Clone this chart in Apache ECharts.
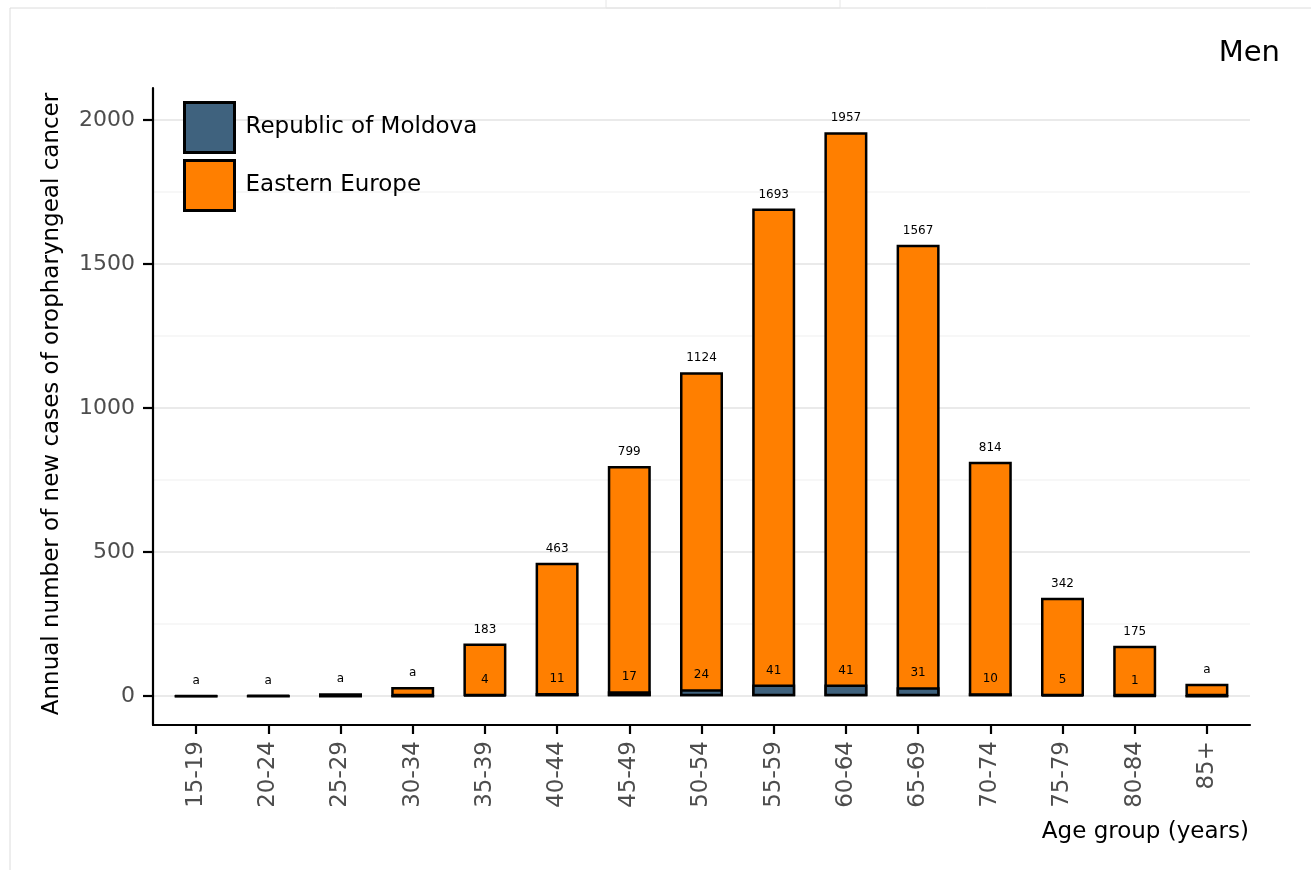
<!DOCTYPE html>
<html>
<head>
<meta charset="utf-8">
<script src="https://cdn.jsdelivr.net/npm/echarts@6/dist/echarts.min.js"></script>
<style>
html,body{margin:0;padding:0;background:#fff;}
#chart{width:1311px;height:870px;}
</style>
</head>
<body>
<div id="chart"></div>
<script>
const ageGroups = ['15-19','20-24','25-29','30-34','35-39','40-44','45-49','50-54','55-59','60-64','65-69','70-74','75-79','80-84','85+'];
const easternEurope = [2, 3, 10, 32, 183, 463, 799, 1124, 1693, 1957, 1567, 814, 342, 175, 43];
const moldova = [0, 0, 0, 0, 4, 11, 17, 24, 41, 41, 31, 10, 5, 1, 0];
const easternEuropeLabels = ['a','a','a','a','183','463','799','1124','1693','1957','1567','814','342','175','a'];
const moldovaLabels = ['','','','','4','11','17','24','41','41','31','10','5','1',''];
const yTicks = [0, 500, 1000, 1500, 2000];
const yMinorLines = [250, 750, 1250, 1750];

const FONT = 'DejaVu Sans';
const chart = echarts.init(document.getElementById('chart'));

chart.setOption({
  animation: false,
  backgroundColor: '#fff',
  textStyle: { fontFamily: FONT },
  grid: [
    { left: 153, right: 61, top: 88, bottom: 145 },
    { left: 153, right: 61, top: 91, bottom: 174 },
    { left: 160, right: 68, top: 88, bottom: 145 },
    { left: 153, right: 61, top: 91, bottom: 174 }
  ],
  xAxis: [
    { gridIndex: 0, type: 'value', min: 0, max: 1,
      axisLine: { show: true, onZero: false, lineStyle: { color: '#000', width: 2.2 } },
      axisTick: { show: false }, axisLabel: { show: false }, splitLine: { show: false } },
    { gridIndex: 1, type: 'value', min: 0, max: 1, show: false },
    { gridIndex: 2, type: 'category', data: ageGroups,
      axisLine: { show: false, onZero: false },
      axisTick: { show: true, alignWithLabel: true, length: 9, lineStyle: { color: '#000', width: 2.2 } },
      axisLabel: { rotate: 90, fontSize: 23, color: '#4d4d4d', margin: 16, fontFamily: FONT },
      splitLine: { show: false } },
    { gridIndex: 3, type: 'value', min: 0, max: 1, show: false }
  ],
  yAxis: [
    { gridIndex: 0, type: 'value', min: -100, max: 2111,
      axisLine: { show: true, onZero: false, lineStyle: { color: '#000', width: 2.2 } },
      axisTick: { show: false }, axisLabel: { show: false }, splitLine: { show: false } },
    { gridIndex: 1, type: 'value', min: 0, max: 2100,
      axisLine: { show: false },
      axisTick: { show: true, length: 10, customValues: yTicks, lineStyle: { color: '#000', width: 2.2 } },
      axisLabel: { fontSize: 22, color: '#4d4d4d', margin: 18, fontFamily: FONT,
        customValues: yTicks, formatter: v => String(v) },
      splitLine: { show: true, lineStyle: { color: '#e3e3e3', width: 1.5 } } },
    { gridIndex: 2, type: 'value', min: -100, max: 2111, show: false, splitLine: { show: false } },
    { gridIndex: 3, type: 'value', min: 0, max: 2100,
      axisLine: { show: false },
      axisTick: { show: false, customValues: yMinorLines },
      axisLabel: { show: false, customValues: yMinorLines },
      splitLine: { show: true, lineStyle: { color: '#f5f5f5', width: 1.5 } } }
  ],
  legend: {
    data: ['Republic of Moldova', 'Eastern Europe'],
    orient: 'vertical', left: 178, top: 96,
    itemWidth: 50, itemHeight: 50, itemGap: 5, itemTextGap: 12,
    icon: 'rect',
    itemStyle: { borderColor: '#000', borderWidth: 3 },
    textStyle: { fontSize: 23, color: '#000', fontFamily: FONT, padding: [0, 0, 0, 6] },
    selectedMode: false
  },
  series: [
    { name: 'Eastern Europe', type: 'bar', xAxisIndex: 2, yAxisIndex: 2,
      data: easternEurope, barWidth: 43, barGap: '-100%',
      itemStyle: { color: '#ff7f00', borderColor: '#000', borderWidth: 2.5 },
      label: { show: true, position: 'top', distance: 8, fontSize: 12, color: '#000', fontFamily: FONT,
        formatter: p => easternEuropeLabels[p.dataIndex] } },
    { name: 'Republic of Moldova', type: 'bar', xAxisIndex: 2, yAxisIndex: 2,
      data: moldova, barWidth: 43, barGap: '-100%',
      itemStyle: { color: '#3f627e', borderColor: '#000', borderWidth: 2.5 },
      label: { show: true, position: 'top', distance: 8, fontSize: 12, color: '#000', fontFamily: FONT,
        formatter: p => moldovaLabels[p.dataIndex] } }
  ],
  graphic: [
    { type: 'rect', shape: { x: 10, y: 8, width: 1320, height: 880 },
      style: { fill: null, stroke: '#dcdcdc', lineWidth: 1 }, silent: true, z: -10 },
    { type: 'rect', shape: { x: 606, y: -2, width: 234, height: 10 },
      style: { fill: null, stroke: '#e6e6e6', lineWidth: 1 }, silent: true, z: -10 },
    { type: 'text', x: 1280, y: 53,
      style: { text: 'Men', font: '29px "DejaVu Sans"', fill: '#000', textAlign: 'right', textVerticalAlign: 'middle' } },
    { type: 'text', x: 1249, y: 832,
      style: { text: 'Age group (years)', font: '23px "DejaVu Sans"', fill: '#000', textAlign: 'right', textVerticalAlign: 'middle' } },
    { type: 'text', x: 52, y: 404, rotation: Math.PI / 2,
      style: { text: 'Annual number of new cases of oropharyngeal cancer', font: '23px "DejaVu Sans"', fill: '#000', textAlign: 'center', textVerticalAlign: 'middle' } }
  ]
});
</script>
</body>
</html>
